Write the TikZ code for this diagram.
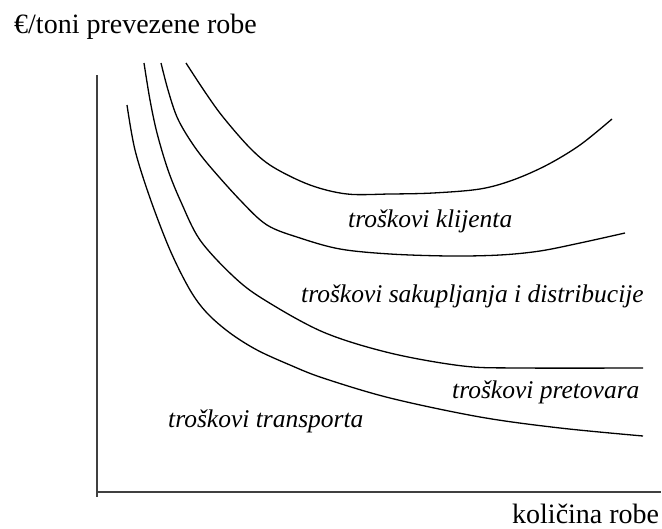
\documentclass[tikz,border=0pt]{standalone}
\usepackage{fontspec}
\setmainfont{Liberation Serif}
\usetikzlibrary{positioning}
\tikzset{
    axis/.style={-, draw=black!75, line width=1.6pt},
    cost/.style={-, black, line width=1.3pt, smooth, tension=0.55},
    lbl/.style={font=\fontsize{25.5}{28}\selectfont\itshape, inner sep=0pt, anchor=base west},
    axlbl/.style={font=\fontsize{28}{30}\selectfont, inner sep=0pt, anchor=base west},
}
\begin{document}
\begin{tikzpicture}[x=1pt, y=-1pt]
    \useasboundingbox (0,0) rectangle (662,528);

    % axes
    \coordinate (o) at (97,492);
    \coordinate (ytop) at (97,75);
    \coordinate (ybot) at (97,497);
    \coordinate (xend) at (661,492);
    \draw[axis] (ytop) -- (ybot);
    \draw[axis] (o) -- (xend);

    \node[axlbl] (ylab) at (14,33) {€/toni prevezene robe};
    \node[axlbl] (xlab) at (512,523) {količina robe};

    % cost curves
    \draw[cost] plot coordinates {(127,105) (135,150) (150,198) (170,250) (190,290)
        (207,313) (230,333) (257,350) (290,365) (323,378) (390,398) (480,417)
        (560,428) (643,436)};
    \draw[cost] plot coordinates {(144,63) (150,100) (157,133) (168,170) (181,202)
        (200,240) (233,276) (263,299) (323,332) (390,353) (463,366) (520,368)
        (643,368)};
    \draw[cost] plot coordinates {(161,63) (168,90) (177,117) (190,140) (207,163)
        (240,200) (267,225) (300,238) (340,249) (390,254) (450,256) (500,255)
        (540,251) (580,243) (625,233)};
    \draw[cost] plot coordinates {(186,63) (205,92) (223,117) (250,148) (273,167)
        (310,185) (347,194) (390,194) (433,193) (480,189) (513,180) (547,165)
        (580,145) (612,119)};

    \node[lbl] (klij) at (348,227) {troškovi klijenta};
    \node[lbl] (saku) at (301,302) {troškovi sakupljanja i distribucije};
    \node[lbl] (pret) at (452,398) {troškovi pretovara};
    \node[lbl] (tran) at (168,427) {troškovi transporta};
\end{tikzpicture}
\end{document}
